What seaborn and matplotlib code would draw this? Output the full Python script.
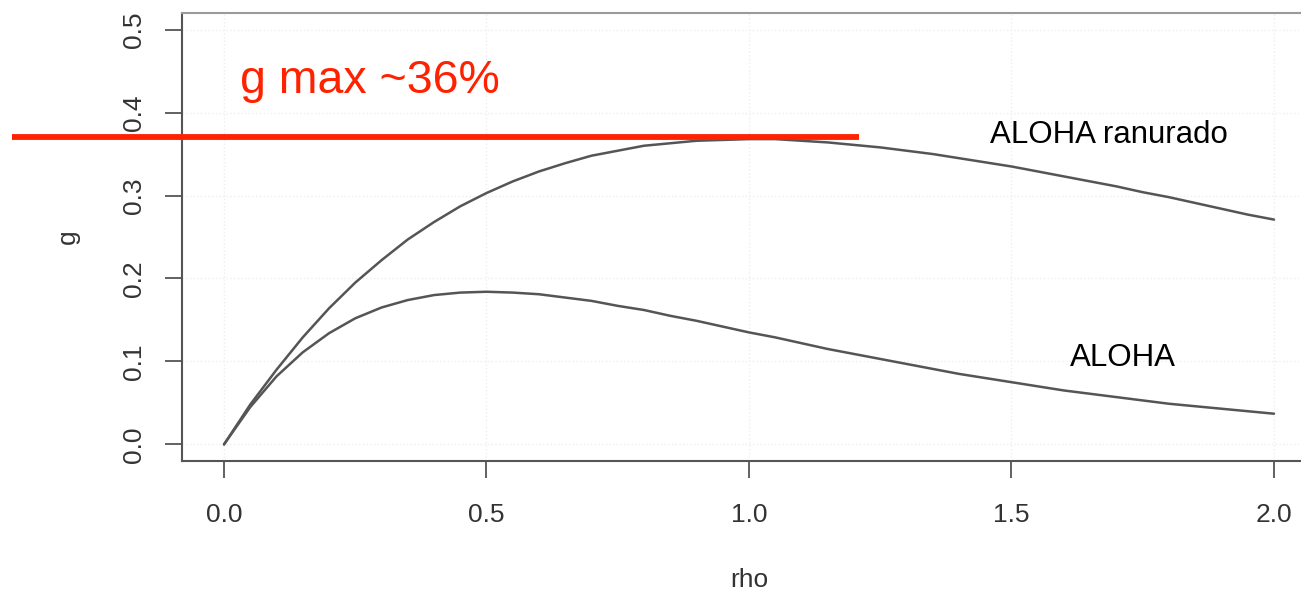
import matplotlib
matplotlib.use("Agg")
import matplotlib.pyplot as plt
import seaborn as sns
import pandas as pd

# Throughput g versus offered load rho for pure and slotted ALOHA
rho = [0.00, 0.05, 0.10, 0.15, 0.20, 0.25, 0.30, 0.35, 0.40, 0.45,
       0.50, 0.55, 0.60, 0.65, 0.70, 0.75, 0.80, 0.85, 0.90, 0.95,
       1.00, 1.05, 1.10, 1.15, 1.20, 1.25, 1.30, 1.35, 1.40, 1.45,
       1.50, 1.55, 1.60, 1.65, 1.70, 1.75, 1.80, 1.85, 1.90, 1.95, 2.00]
g_slotted = [0.000, 0.048, 0.090, 0.129, 0.164, 0.195, 0.222, 0.247, 0.268, 0.287,
             0.303, 0.317, 0.329, 0.339, 0.348, 0.354, 0.360, 0.363, 0.366, 0.367,
             0.368, 0.368, 0.366, 0.364, 0.361, 0.358, 0.354, 0.350, 0.345, 0.340,
             0.335, 0.329, 0.323, 0.317, 0.311, 0.304, 0.298, 0.291, 0.284, 0.277,
             0.271]
g_pure = [0.000, 0.045, 0.082, 0.111, 0.134, 0.152, 0.165, 0.174, 0.180, 0.183,
          0.184, 0.183, 0.181, 0.177, 0.173, 0.167, 0.162, 0.155, 0.149, 0.142,
          0.135, 0.129, 0.122, 0.115, 0.109, 0.103, 0.097, 0.091, 0.085, 0.080,
          0.075, 0.070, 0.065, 0.061, 0.057, 0.053, 0.049, 0.046, 0.043, 0.040,
          0.037]
series_names = ["ALOHA ranurado", "ALOHA"]

x_ticks = [0.0, 0.5, 1.0, 1.5, 2.0]
y_ticks = [0.0, 0.1, 0.2, 0.3, 0.4, 0.5]

gmax_level = 0.370
gmax_text = "g max ~36%"

df = pd.concat([
    pd.DataFrame({"rho": rho, "g": g_slotted, "serie": series_names[0]}),
    pd.DataFrame({"rho": rho, "g": g_pure, "serie": series_names[1]}),
])

sns.set_style("white")
plt.rcParams["font.family"] = ["Liberation Sans", "DejaVu Sans"]

W, H = 1301, 591
fig = plt.figure(figsize=(W / 100, H / 100), dpi=100)
left, right, top, bottom = 182, 1316, 13, 461
ax = fig.add_axes([left / W, 1 - bottom / H, (right - left) / W, (bottom - top) / H])

sns.lineplot(data=df, x="rho", y="g", hue="serie", units="serie", estimator=None,
             palette=["#555555", "#555555"], linewidth=1.8, legend=False, ax=ax)

ax.set_xlim(-0.08, 2.08)
ax.set_ylim(-0.02, 0.52)
ax.set_xticks(x_ticks)
ax.set_xticklabels([f"{v:.1f}" for v in x_ticks])
ax.set_yticks(y_ticks)
ax.set_yticklabels([f"{v:.1f}" for v in y_ticks], rotation=90, va="center")
ax.tick_params(axis="both", direction="out", length=12, width=1.3, color="#555555",
               labelsize=19, labelcolor="#333333", bottom=True, left=True)
ax.tick_params(axis="x", pad=18)
ax.tick_params(axis="y", pad=14)

ax.grid(True, color="#eeeeee", linestyle=":", linewidth=1.0)
for side in ["left", "bottom", "top", "right"]:
    ax.spines[side].set_color("#555555")
    ax.spines[side].set_linewidth(1.5)
ax.spines["top"].set_color("#9a9a9a")

ax.set_xlabel("rho", fontsize=19, color="#333333", labelpad=30)
ax.set_ylabel("g", fontsize=19, color="#333333", labelpad=30)

# Maximum throughput marker
ax.plot([-0.403, 1.209], [gmax_level, gmax_level], color="#ff2200", linewidth=4.2,
        solid_capstyle="butt", clip_on=False, zorder=5)
ax.text(0.03, 0.423, gmax_text, color="#ff2200", fontsize=33.5, va="baseline",
        ha="left")

# Curve labels
ax.text(1.46, 0.373, series_names[0], fontsize=22.5, color="black",
        va="center", ha="left")
ax.text(1.612, 0.104, series_names[1], fontsize=22.5, color="black",
        va="center", ha="left")

fig.savefig("out.png", dpi=100, facecolor="white")
